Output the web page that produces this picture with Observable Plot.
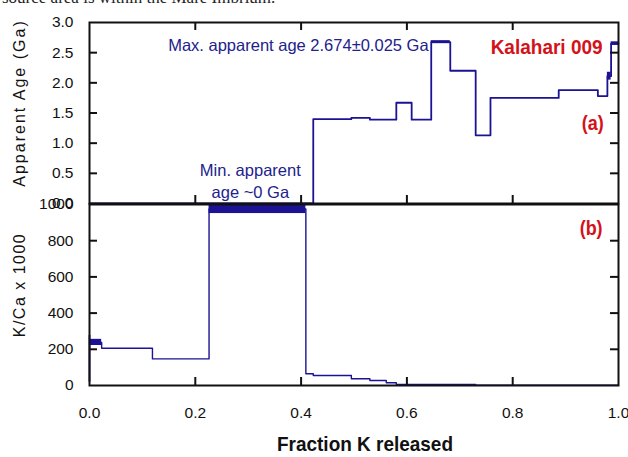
<!DOCTYPE html>
<html><head><meta charset="utf-8">
<script src="https://cdn.jsdelivr.net/npm/d3@7"></script>
<script src="https://cdn.jsdelivr.net/npm/@observablehq/plot@0.6"></script>
<style>
body{margin:0;background:#fff;width:628px;height:457px;overflow:hidden;position:relative;font-family:"Liberation Sans",Arial,sans-serif}
#clip{position:absolute;left:2px;top:-10px;font-family:"Liberation Serif","Times New Roman",serif;font-size:17px;line-height:16px;color:#222;white-space:nowrap}
#a{position:absolute;left:0;top:0}
#b{position:absolute;left:0;top:203px}
svg{overflow:visible}
</style></head><body>
<div id="clip">source area is within the Mare Imbrium.</div>
<div id="a"></div><div id="b"></div>
<script>
// ---- data ----
const xTicks = [0, 0.2, 0.4, 0.6, 0.8, 1.0];
const ageTicks = [0, 0.5, 1.0, 1.5, 2.0, 2.5, 3.0];
const kcaTicks = [0, 200, 400, 600, 800, 1000];

// panel (a): apparent age step spectrum
const ageEdges  = [0, 0.423, 0.495, 0.530, 0.580, 0.609, 0.646, 0.682, 0.730, 0.758, 0.887, 0.961, 0.979, 0.986, 1.0];
const ageValues = [0.0, 1.40, 1.42, 1.39, 1.67, 1.39, 2.674, 2.20, 1.13, 1.75, 1.88, 1.78, 2.11, 2.65];
const ageErrors = [0, 0, 0, 0, 0, 0, 0.025, 0, 0, 0, 0, 0, 0.065, 0.03];

// panel (b): K/Ca x 1000 step spectrum
const kcaEdges  = [0, 0.023, 0.119, 0.226, 0.409, 0.423, 0.495, 0.530, 0.561, 0.580, 0.730, 1.0];
const kcaValues = [238, 206, 147, 975, 65, 55, 37, 28, 15, 6, 2];
const kcaErrors = [17, 0, 0, 25, 0, 0, 0, 0, 0, 0, 0];
const kcaFirstRange = [18, 276];

const annotA = [
  {x: 0.641, y: 2.635, text: "Max. apparent age 2.674±0.025 Ga", color: "blue", anchor: "end", size: 16.5, weight: "normal"},
  {x: 0.304, y: 0.39, text: "Min. apparent\nage ~0 Ga", color: "blue", anchor: "middle", size: 16.5, weight: "normal"},
  {x: 0.970, y: 2.62, text: "Kalahari 009", color: "red", anchor: "end", size: 21, weight: "bold", len: 112},
  {x: 0.972, y: 1.36, text: "(a)", color: "red", anchor: "end", size: 21, weight: "bold", len: 22}
];
const annotB = [
  {x: 0.970, y: 878, text: "(b)", color: "red", anchor: "end", size: 21, weight: "bold", len: 23}
];

// ---- helpers ----
const BLUE = "#1c1294", TXTBLUE = "#22228c", RED = "#d3121a", INK = "#111";
const sans = "'Liberation Sans',Arial,sans-serif";
const steps = (edges, vals) => edges.map((x, i) => ({x, y: vals[Math.min(i, vals.length - 1)]}));
const boxes = (edges, vals, errs) => vals.map((v, i) => ({x1: edges[i], x2: edges[i + 1], y1: v - errs[i], y2: v + errs[i], e: errs[i]})).filter(d => d.e > 0);
const inner = (t) => t.slice(1, -1);
const colorOf = c => c === "red" ? RED : TXTBLUE;
const annotMarks = (arr) => arr.map(d => Plot.text([d], {x: "x", y: "y", text: "text", fill: colorOf(d.color), textAnchor: d.anchor, fontSize: d.size, fontWeight: d.weight, lineHeight: 1.3}));

const tx = 0.0151; // tick length in x units (~8px)

// ---- panel (a) ----
const ty = 8 / 60.33;
const plotA = Plot.plot({
  width: 628, height: 205, marginLeft: 89, marginRight: 10, marginTop: 22, marginBottom: 2,
  x: {domain: [0, 1], axis: null},
  y: {domain: [0, 3], axis: null},
  style: {fontFamily: sans, fontSize: "15px", color: INK, background: "transparent", overflow: "visible"},
  marks: [
    Plot.rect(boxes(ageEdges, ageValues, ageErrors), {x1: "x1", x2: "x2", y1: "y1", y2: "y2", fill: BLUE}),
    Plot.line(steps(ageEdges, ageValues), {x: "x", y: "y", curve: "step-after", stroke: BLUE, strokeWidth: 1.8}),
    Plot.ruleY(inner(ageTicks), {x1: 0, x2: tx, stroke: INK, strokeWidth: 2}),
    Plot.ruleY(inner(ageTicks), {x1: 1 - tx, x2: 1, stroke: INK, strokeWidth: 2}),
    Plot.ruleX(inner(xTicks), {y1: 3, y2: 3 - ty, stroke: INK, strokeWidth: 2}),
    Plot.ruleX(inner(xTicks), {y1: 0, y2: ty, stroke: INK, strokeWidth: 2}),
    Plot.axisY(ageTicks, {tickSize: 0, tickPadding: 16, tickFormat: d3.format(".1f"), label: null, fontSize: 15.5, fill: INK}),
    Plot.frame({stroke: INK, strokeWidth: 2}),
    Plot.text(["Apparent Age (Ga)"], {frameAnchor: "left", dx: -70, dy: -10, rotate: -90, fontSize: 16, fill: INK, textAnchor: "middle"}),
    ...annotMarks(annotA)
  ]
});
document.getElementById("a").appendChild(plotA);

// ---- panel (b) ----
const tyb = 8 / 0.181;
const plotB = Plot.plot({
  width: 628, height: 254, marginLeft: 89, marginRight: 10, marginTop: 1, marginBottom: 72,
  x: {domain: [0, 1], axis: null},
  y: {domain: [0, 1000], axis: null},
  style: {fontFamily: sans, fontSize: "15px", color: INK, background: "transparent", overflow: "visible"},
  marks: [
    Plot.rect(boxes(kcaEdges, kcaValues, kcaErrors), {x1: "x1", x2: "x2", y1: "y1", y2: "y2", fill: BLUE}),
    Plot.ruleX([0], {y1: kcaFirstRange[0], y2: kcaFirstRange[1], stroke: BLUE, strokeWidth: 1.8}),
    Plot.line(steps(kcaEdges, kcaValues), {x: "x", y: "y", curve: "step-after", stroke: BLUE, strokeWidth: 1.4}),
    Plot.ruleY(inner(kcaTicks), {x1: 0, x2: tx, stroke: INK, strokeWidth: 2}),
    Plot.ruleY(inner(kcaTicks), {x1: 1 - tx, x2: 1, stroke: INK, strokeWidth: 2}),
    Plot.ruleX(inner(xTicks), {y1: 0, y2: tyb, stroke: INK, strokeWidth: 2}),
    Plot.axisY(kcaTicks, {tickSize: 0, tickPadding: 16, tickFormat: d3.format("d"), label: null, fontSize: 15.5, fill: INK}),
    Plot.axisX(xTicks, {tickSize: 0, tickPadding: 21, tickFormat: d3.format(".1f"), label: null, fontSize: 15.5, fill: INK}),
    Plot.frame({stroke: INK, strokeWidth: 2}),
    Plot.text(["K/Ca x 1000"], {frameAnchor: "left", dx: -70, dy: -10, rotate: -90, fontSize: 16, fill: INK, textAnchor: "middle"}),
    Plot.text(["Fraction K released"], {frameAnchor: "bottom", dx: 11, dy: 65, fontSize: 21, fontWeight: "bold", fill: INK}),
    ...annotMarks(annotB)
  ]
});
document.getElementById("b").appendChild(plotB);

// text fitting: letter spacing for rotated titles, condensed widths for bold labels
const fitLen = {"Fraction K released": 176};
[...annotA, ...annotB].forEach(d => { if (d.len) fitLen[d.text] = d.len; });
d3.selectAll("svg text").each(function() {
  const t = this.textContent;
  if (t === "Apparent Age (Ga)") this.style.letterSpacing = "2px";
  if (t === "K/Ca x 1000") this.style.letterSpacing = "1.5px";
  if (fitLen[t]) {
    this.setAttribute("textLength", fitLen[t]);
    this.setAttribute("lengthAdjust", "spacingAndGlyphs");
  }
});
</script>
</body></html>
